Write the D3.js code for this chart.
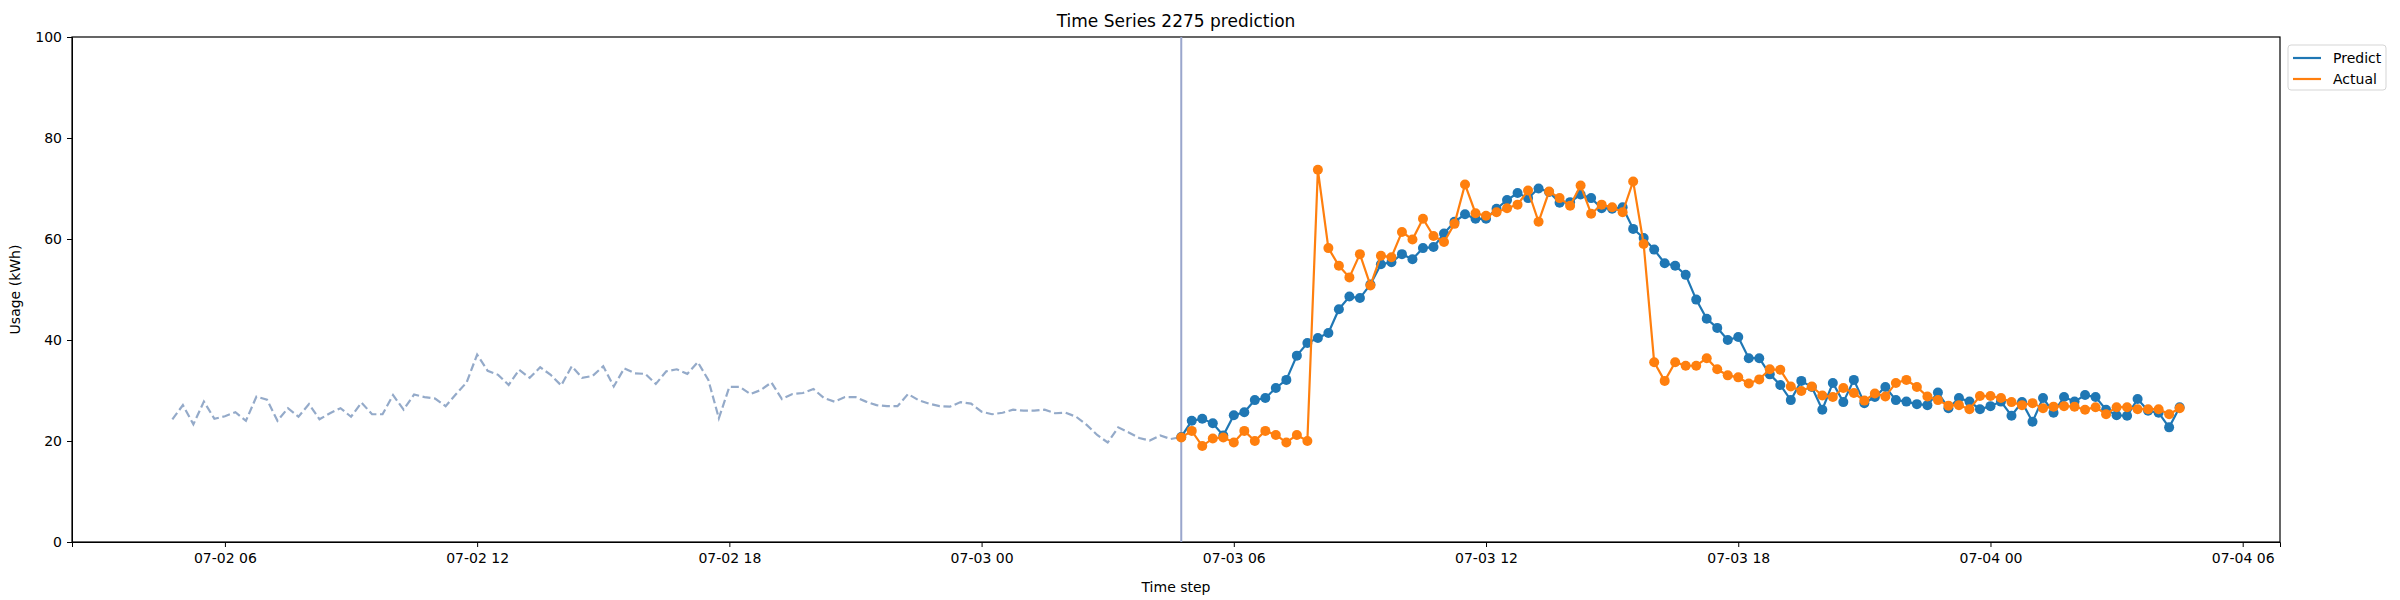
<!DOCTYPE html>
<meta charset="utf-8">
<script src="https://d3js.org/d3.v7.min.js"></script>
<style>
  body { margin: 0; background: #fff; }
  text { font-family: "DejaVu Sans", sans-serif; }
</style>
<body>
<div id="chart"></div>
<script>
// history (dashed), 15-min steps from 07-02 04:45
var historyStart = "2024-07-02T04:45";
var historyValues = [24.3, 27.1, 23.3, 27.8, 24.4, 24.9, 25.7, 24.0, 28.8, 28.2,
  24.0, 26.5, 24.8, 27.3, 24.3, 25.5, 26.5, 24.8, 27.6, 25.3,
  25.3, 29.1, 26.2, 29.2, 28.7, 28.4, 26.9, 29.3, 31.6, 37.1,
  33.9, 33.1, 31.1, 34.1, 32.5, 34.6, 33.1, 31.0, 34.8, 32.5,
  32.9, 34.8, 30.8, 34.4, 33.4, 33.3, 31.3, 33.8, 34.2, 33.3,
  35.6, 32.1, 24.5, 30.7, 30.7, 29.3, 30.1, 31.6, 28.3, 29.3,
  29.5, 30.3, 28.5, 27.8, 28.7, 28.7, 27.8, 27.1, 26.9, 26.9,
  29.3, 28.1, 27.4, 26.9, 26.8, 27.7, 27.4, 25.8, 25.3, 25.6,
  26.2, 26.0, 26.0, 26.2, 25.5, 25.6, 24.8, 23.2, 21.2, 19.7,
  22.7, 21.7, 20.6, 20.1, 21.1, 20.4, 20.8];

// forecast window, 15-min steps from 07-03 04:45
var predictStart = "2024-07-03T04:45";
var predictValues = [20.8, 24.0, 24.4, 23.5, 21.1, 25.1, 25.7, 28.1, 28.5, 30.5,
  32.1, 36.9, 39.4, 40.4, 41.4, 46.1, 48.6, 48.3, 51.0, 55.0,
  55.4, 57.0, 56.0, 58.2, 58.4, 61.1, 63.4, 64.9, 64.0, 64.0,
  66.0, 67.7, 69.1, 68.1, 70.0, 69.3, 67.2, 67.3, 68.8, 68.1,
  66.1, 66.0, 66.3, 62.0, 60.2, 57.9, 55.2, 54.7, 52.9, 48.0,
  44.2, 42.4, 40.0, 40.6, 36.4, 36.4, 33.2, 31.1, 28.1, 31.9,
  30.7, 26.2, 31.5, 27.7, 32.1, 27.5, 28.7, 30.7, 28.1, 27.8,
  27.3, 27.1, 29.6, 26.5, 28.5, 27.8, 26.3, 26.9, 27.8, 25.0,
  27.7, 23.8, 28.5, 25.6, 28.7, 27.8, 29.1, 28.7, 26.2, 25.1,
  25.0, 28.3, 26.0, 25.6, 22.7, 26.7];
var actualValues = [20.7, 22.0, 19.0, 20.5, 20.7, 19.7, 22.0, 20.0, 22.0, 21.2,
  19.7, 21.2, 20.0, 73.7, 58.2, 54.7, 52.4, 57.0, 50.8, 56.7,
  56.4, 61.4, 59.9, 64.0, 60.6, 59.4, 63.0, 70.8, 65.1, 64.6,
  65.3, 66.1, 66.8, 69.6, 63.4, 69.4, 68.1, 66.6, 70.6, 65.0,
  66.8, 66.3, 65.3, 71.4, 59.0, 35.6, 31.9, 35.6, 34.9, 34.9,
  36.4, 34.2, 33.0, 32.6, 31.4, 32.2, 34.2, 34.1, 30.8, 29.9,
  30.8, 29.0, 28.7, 30.5, 29.5, 28.0, 29.4, 28.8, 31.5, 32.1,
  30.7, 28.8, 28.1, 27.0, 27.1, 26.3, 28.9, 28.9, 28.5, 27.7,
  27.1, 27.5, 26.5, 26.8, 26.9, 26.8, 26.2, 26.7, 25.3, 26.7,
  26.7, 26.3, 26.3, 26.3, 25.3, 26.5];

var yTicks = [0, 20, 40, 60, 80, 100];
var seriesNames = ["Predict", "Actual"];
var seriesColors = ["#1f77b4", "#ff7f0e"];

var step = 15 * 60 * 1000;
var parse = d3.timeParse("%Y-%m-%dT%H:%M");
function toPoints(start, values) {
  var t0 = parse(start).getTime();
  return values.map(function(v, i) { return { t: new Date(t0 + i * step), v: v }; });
}
var hist = toPoints(historyStart, historyValues);
var pred = toPoints(predictStart, predictValues);
var act = toPoints(predictStart, actualValues);

var margin = {top: 37, right: 120, bottom: 58, left: 72},
    width = 2400 - margin.left - margin.right,
    height = 600 - margin.top - margin.bottom;

var svg = d3.select("#chart").append("svg")
    .attr("width", 2400).attr("height", 600)
  .append("g")
    .attr("transform", "translate(" + margin.left + "," + margin.top + ")");

// matplotlib style 5% margins on x
var tMin = hist[0].t.getTime(), tMax = pred[pred.length - 1].t.getTime();
var pad = (tMax - tMin) * 0.05;
var x = d3.scaleTime().domain([new Date(tMin - pad), new Date(tMax + pad)]).range([0, width]);
var y = d3.scaleLinear().domain([0, 100]).range([height, 0]);

var xTicks = d3.timeHour.every(6).range(new Date(tMin - pad), new Date(tMax + pad));

svg.append("g")
    .attr("transform", "translate(0," + height + ")")
    .call(d3.axisBottom(x).tickValues(xTicks).tickFormat(d3.timeFormat("%m-%d %H")).tickSizeOuter(0).tickSize(5).tickPadding(6))
    .call(function(g) { g.selectAll("text").attr("font-size", 14).attr("fill", "#000"); });

svg.append("g")
    .call(d3.axisLeft(y).tickValues(yTicks).tickSizeOuter(0).tickSize(5).tickPadding(5))
    .call(function(g) { g.selectAll("text").attr("font-size", 14).attr("fill", "#000"); });

svg.append("rect").attr("width", width).attr("height", height)
    .attr("fill", "none").attr("stroke", "#000").attr("stroke-width", 1.2);

var line = d3.line().x(function(d) { return x(d.t); }).y(function(d) { return y(d.v); });

svg.append("path").datum(hist)
    .attr("fill", "none").attr("stroke", "#94aac9").attr("stroke-width", 2.2)
    .attr("stroke-dasharray", "8,3.6").attr("d", line);

// forecast start marker
svg.append("line")
    .attr("x1", x(pred[0].t)).attr("x2", x(pred[0].t))
    .attr("y1", 0).attr("y2", height)
    .attr("stroke", "#9aa6cc").attr("stroke-width", 2);

[pred, act].forEach(function(data, k) {
  svg.append("path").datum(data)
      .attr("fill", "none").attr("stroke", seriesColors[k]).attr("stroke-width", 2.2).attr("d", line);
  svg.append("g").selectAll("circle").data(data).enter().append("circle")
      .attr("cx", function(d) { return x(d.t); })
      .attr("cy", function(d) { return y(d.v); })
      .attr("r", 5).attr("fill", seriesColors[k]);
});

svg.append("text").attr("x", width / 2).attr("y", -10).attr("text-anchor", "middle")
    .attr("font-size", 17).text("Time Series 2275 prediction");
svg.append("text").attr("x", width / 2).attr("y", height + 50).attr("text-anchor", "middle")
    .attr("font-size", 14).text("Time step");
svg.append("text").attr("transform", "rotate(-90)").attr("x", -height / 2).attr("y", -52)
    .attr("text-anchor", "middle").attr("font-size", 14).text("Usage (kWh)");

// legend
var lg = svg.append("g").attr("transform", "translate(" + (width + 8) + ",8)");
lg.append("rect").attr("width", 98).attr("height", 45).attr("rx", 3)
    .attr("fill", "#fff").attr("stroke", "#d5d5d5");
seriesNames.forEach(function(n, i) {
  lg.append("line").attr("x1", 5).attr("x2", 33).attr("y1", 13 + i * 21).attr("y2", 13 + i * 21)
      .attr("stroke", seriesColors[i]).attr("stroke-width", 2.2);
  lg.append("text").attr("x", 45).attr("y", 18 + i * 21).attr("font-size", 14).text(n);
});
</script>
</body>
